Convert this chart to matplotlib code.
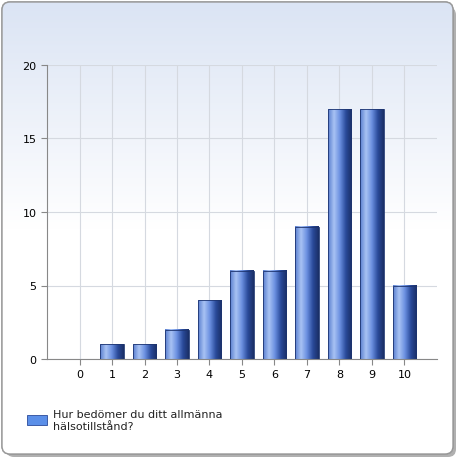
import numpy as np
import matplotlib
matplotlib.use("Agg")
import matplotlib.pyplot as plt
from matplotlib.patches import FancyBboxPatch
from matplotlib.colors import LinearSegmentedColormap

categories = ["0", "1", "2", "3", "4", "5", "6", "7", "8", "9", "10"]
values = [0, 1, 1, 2, 4, 6, 6, 9, 17, 17, 5]
yticks = [0, 5, 10, 15, 20]
legend_label = "Hur bedömer du ditt allmänna\nhälsotillstånd?"

W = H = 460
fig = plt.figure(figsize=(W/100, H/100), dpi=100)

bg = fig.add_axes([0, 0, 1, 1], zorder=-10)
bg.axis("off")
shadow = FancyBboxPatch((6, 2), W-10, H-10, boxstyle="round,pad=0,rounding_size=8",
                        fc="#b0b0b0", ec="none", zorder=0)
bg.add_patch(shadow)
box = FancyBboxPatch((2, 5), W-9, H-8, boxstyle="round,pad=0,rounding_size=8",
                     fc="white", ec="#999999", lw=1, zorder=1)
bg.add_patch(box)
grad = np.linspace(0, 1, 256).reshape(-1, 1)
cmap_bg = LinearSegmentedColormap.from_list("bg", ["#ffffff", "#ffffff", "#dbe4f4"])
im = bg.imshow(grad, extent=(2, W-7, 5, H-3), origin="lower", cmap=cmap_bg, aspect="auto", zorder=2)
im.set_clip_path(box)
edge = FancyBboxPatch((2, 5), W-9, H-8, boxstyle="round,pad=0,rounding_size=8",
                      fc="none", ec="#999999", lw=1, zorder=3)
bg.add_patch(edge)
bg.set_xlim(0, W); bg.set_ylim(0, H)

ax = fig.add_axes([47/W, 1-360/H, 390/W, 294/H])
ax.patch.set_alpha(0)
x = np.arange(len(categories))
ax.grid(True, color="#d5d9e0", lw=0.8)
ax.set_axisbelow(True)
for s in ["top", "right"]:
    ax.spines[s].set_visible(False)
for s in ["left", "bottom"]:
    ax.spines[s].set_color("#888888")
ax.tick_params(labelsize=8, color="#888888", length=4)

cmap_bar = LinearSegmentedColormap.from_list("bar", ["#5a7fd0", "#a9c3f4", "#6a8fe0", "#2a4a9a", "#1a2f66"])
hgrad = np.linspace(0, 1, 64).reshape(1, -1)
bw = 0.72
bars = ax.bar(x, values, width=bw, color="none", edgecolor="#1d3470", lw=0.6, zorder=3)
for b, v in zip(bars, values):
    if v <= 0:
        continue
    x0 = b.get_x()
    ax.imshow(hgrad, extent=(x0, x0+bw, 0, v), cmap=cmap_bar, aspect="auto", zorder=2,
              clip_path=b, clip_on=True)
ax.set_xlim(-1, len(categories)); ax.set_ylim(0, 20)
ax.set_yticks(yticks)
ax.set_xticks(x)
ax.set_xticklabels(categories)

bg.add_patch(plt.Rectangle((27, H-426), 20, 10, fc="#5b8fe8", ec="#2a4a9a", lw=0.6, zorder=4))
bg.text(53, H-421, legend_label, fontsize=8, va="center", ha="left", color="#222222", zorder=5)

fig.savefig("out.png", dpi=100)
